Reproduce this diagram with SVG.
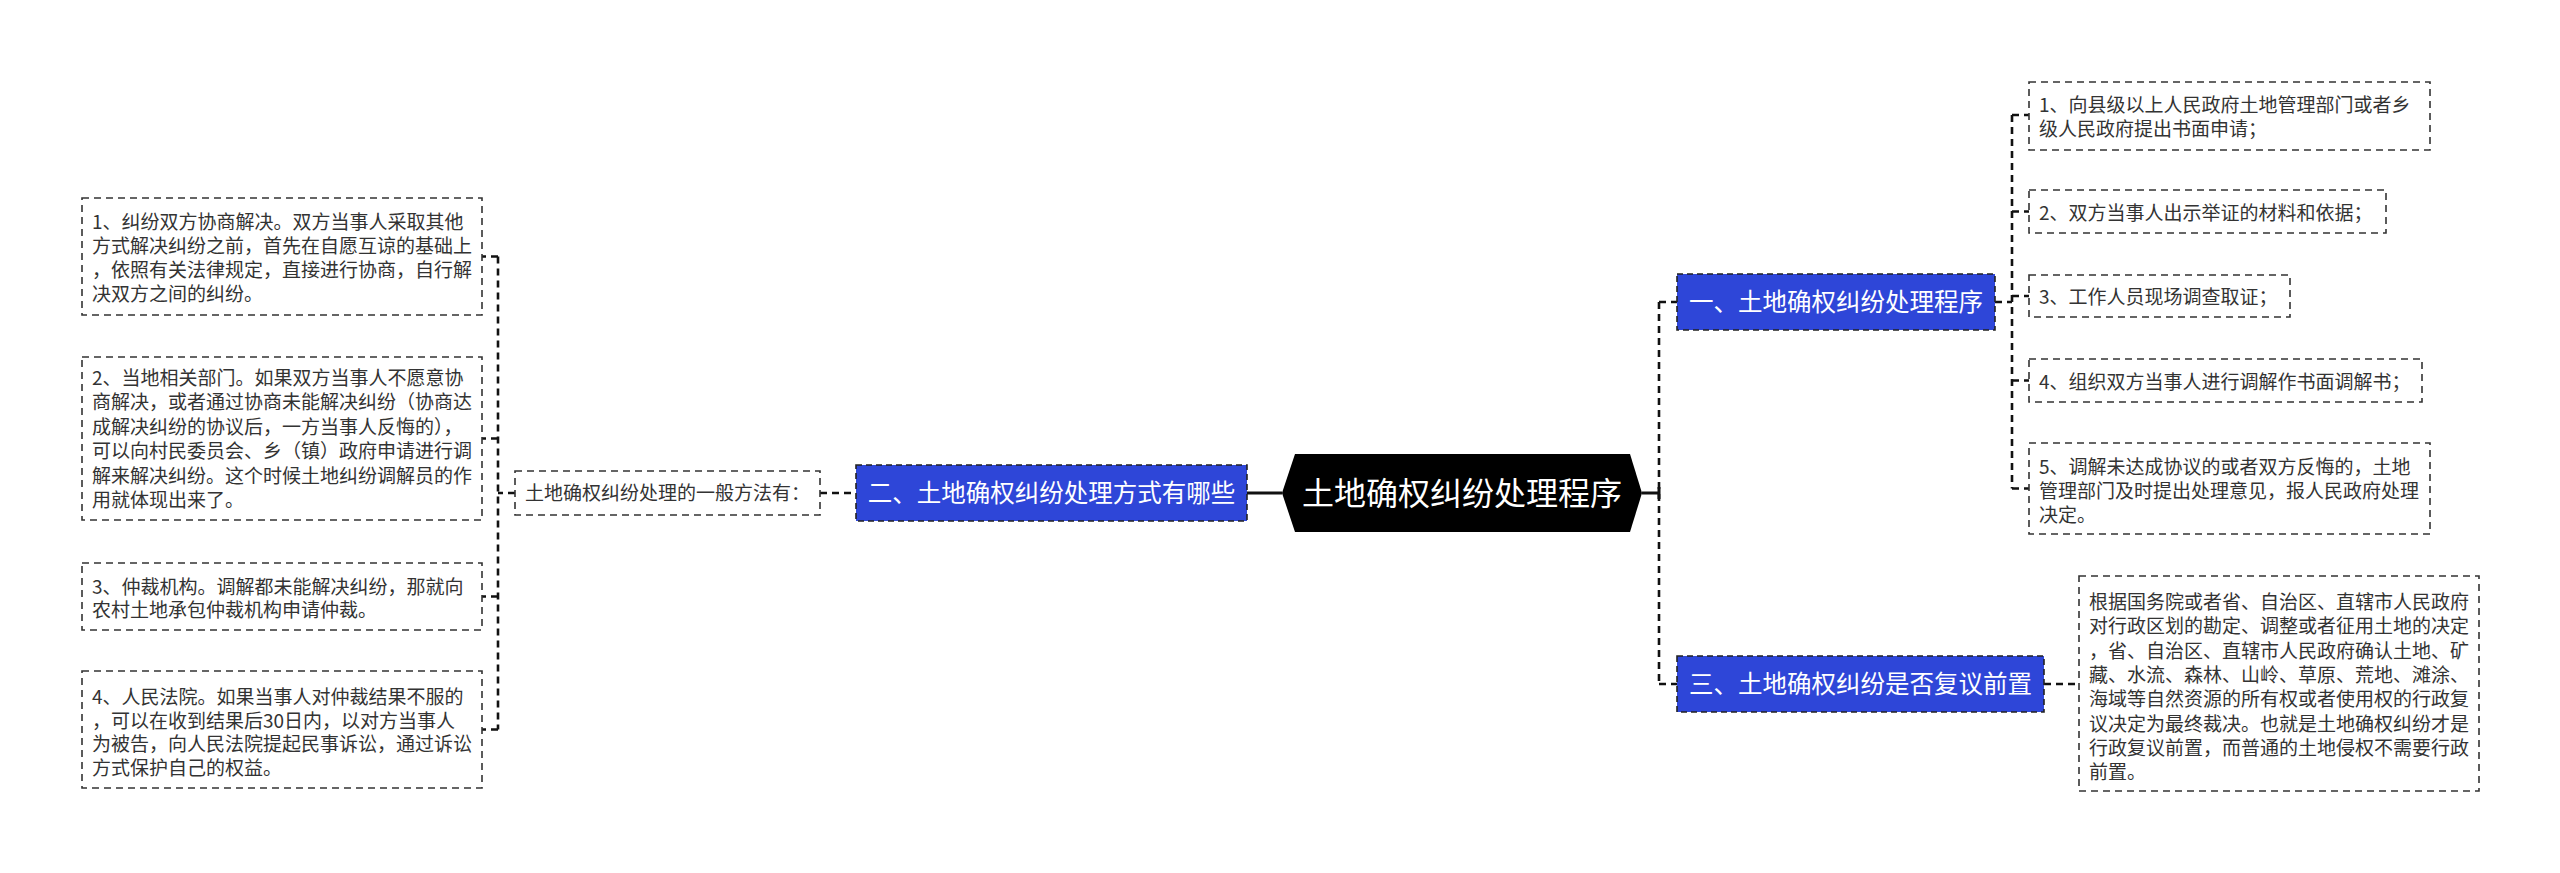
<svg xmlns="http://www.w3.org/2000/svg" width="2560" height="873" viewBox="0 0 2560 873">
<style>
.bg{fill:#ffffff}
.box{fill:#ffffff;stroke:#333333;stroke-width:1.6;stroke-dasharray:7 5}
.blue{fill:#2e46d8;stroke:#222222;stroke-width:1.6;stroke-dasharray:6 4}
.t{font-family:"Microsoft YaHei","Noto Sans CJK SC","Noto Sans",sans-serif;font-size:19px;fill:#333333}
.tb{font-family:"Microsoft YaHei","Noto Sans CJK SC","Noto Sans",sans-serif;font-size:24.5px;fill:#ffffff;text-anchor:middle}
.tc{font-family:"Microsoft YaHei","Noto Sans CJK SC","Noto Sans",sans-serif;font-size:32px;fill:#ffffff;text-anchor:middle}
.dash{fill:none;stroke:#111111;stroke-width:2.6;stroke-dasharray:7 5}
.solid{fill:none;stroke:#111111;stroke-width:3}
</style>
<rect class="bg" x="0" y="0" width="2560" height="873"/>
<g id="connectors">
<path class="solid" d="M1247,493 H1282"/>
<path class="solid" d="M1642,493 H1659 M1659,487 V499"/>
<path class="dash" d="M1659,302 V684 M1659,302 H1677 M1659,684 H1677"/>
<path class="dash" d="M1995,302 H2012 M2012,115 V488.5 M2012,115 H2029 M2012,211.5 H2029 M2012,296 H2029 M2012,380.5 H2029 M2012,488.5 H2029"/>
<path class="dash" d="M2044,684 H2079"/>
<path class="dash" d="M820,493 H856"/>
<path class="dash" d="M515,493 H498 M498,256.5 V729.5 M498,256.5 H482 M498,438.5 H482 M498,596.5 H482 M498,729.5 H482"/>
</g>
<g id="center">
<polygon points="1295,454 1630,454 1642,493 1630,532 1295,532 1282,493" fill="#000000"/>
<text class="tc" x="1462" y="505">土地确权纠纷处理程序</text>
</g>
<g id="n2">
<rect class="blue" x="856" y="465" width="391" height="56"/>
<text class="tb" x="1051.5" y="502">二、土地确权纠纷处理方式有哪些</text>
</g>
<g id="n2a">
<rect class="box" x="515" y="471" width="305" height="44"/>
<text class="t" x="525" y="500">土地确权纠纷处理的一般方法有：</text>
</g>
<g id="l1">
<rect class="box" x="82" y="198" width="400" height="117"/>
<text class="t"><tspan x="92" y="229">1、纠纷双方协商解决。双方当事人采取其他</tspan><tspan x="92" y="253">方式解决纠纷之前，首先在自愿互谅的基础上</tspan><tspan x="92" y="277">，依照有关法律规定，直接进行协商，自行解</tspan><tspan x="92" y="301">决双方之间的纠纷。</tspan></text>
</g>
<g id="l2">
<rect class="box" x="82" y="357" width="400" height="163"/>
<text class="t"><tspan x="92" y="385">2、当地相关部门。如果双方当事人不愿意协</tspan><tspan x="92" y="409.4">商解决，或者通过协商未能解决纠纷（协商达</tspan><tspan x="92" y="433.8">成解决纠纷的协议后，一方当事人反悔的），</tspan><tspan x="92" y="458.2">可以向村民委员会、乡（镇）政府申请进行调</tspan><tspan x="92" y="482.6">解来解决纠纷。这个时候土地纠纷调解员的作</tspan><tspan x="92" y="507">用就体现出来了。</tspan></text>
</g>
<g id="l3">
<rect class="box" x="82" y="563" width="400" height="67"/>
<text class="t"><tspan x="92" y="594">3、仲裁机构。调解都未能解决纠纷，那就向</tspan><tspan x="92" y="617">农村土地承包仲裁机构申请仲裁。</tspan></text>
</g>
<g id="l4">
<rect class="box" x="82" y="671" width="400" height="117"/>
<text class="t"><tspan x="92" y="704">4、人民法院。如果当事人对仲裁结果不服的</tspan><tspan x="92" y="727.5">，可以在收到结果后30日内，以对方当事人</tspan><tspan x="92" y="751">为被告，向人民法院提起民事诉讼，通过诉讼</tspan><tspan x="92" y="775">方式保护自己的权益。</tspan></text>
</g>
<g id="n1">
<rect class="blue" x="1677" y="274" width="318" height="56"/>
<text class="tb" x="1836" y="311">一、土地确权纠纷处理程序</text>
</g>
<g id="n3">
<rect class="blue" x="1677" y="656" width="367" height="56"/>
<text class="tb" x="1860.5" y="693">三、土地确权纠纷是否复议前置</text>
</g>
<g id="r1">
<rect class="box" x="2029" y="82" width="401" height="68"/>
<text class="t"><tspan x="2039" y="111.5">1、向县级以上人民政府土地管理部门或者乡</tspan><tspan x="2039" y="135.5">级人民政府提出书面申请；</tspan></text>
</g>
<g id="r2">
<rect class="box" x="2029" y="190" width="357" height="43"/>
<text class="t" x="2039" y="220">2、双方当事人出示举证的材料和依据；</text>
</g>
<g id="r3">
<rect class="box" x="2029" y="275" width="261" height="42"/>
<text class="t" x="2039" y="304">3、工作人员现场调查取证；</text>
</g>
<g id="r4">
<rect class="box" x="2029" y="359" width="393" height="43"/>
<text class="t" x="2039" y="388.5">4、组织双方当事人进行调解作书面调解书；</text>
</g>
<g id="r5">
<rect class="box" x="2029" y="443" width="401" height="91"/>
<text class="t"><tspan x="2039" y="473.5">5、调解未达成协议的或者双方反悔的，土地</tspan><tspan x="2039" y="497.5">管理部门及时提出处理意见，报人民政府处理</tspan><tspan x="2039" y="521.5">决定。</tspan></text>
</g>
<g id="r6">
<rect class="box" x="2079" y="576" width="400" height="215"/>
<text class="t"><tspan x="2089" y="609">根据国务院或者省、自治区、直辖市人民政府</tspan><tspan x="2089" y="633.3">对行政区划的勘定、调整或者征用土地的决定</tspan><tspan x="2089" y="657.6">，省、自治区、直辖市人民政府确认土地、矿</tspan><tspan x="2089" y="681.9">藏、水流、森林、山岭、草原、荒地、滩涂、</tspan><tspan x="2089" y="706.2">海域等自然资源的所有权或者使用权的行政复</tspan><tspan x="2089" y="730.5">议决定为最终裁决。也就是土地确权纠纷才是</tspan><tspan x="2089" y="754.8">行政复议前置，而普通的土地侵权不需要行政</tspan><tspan x="2089" y="779.1">前置。</tspan></text>
</g>
</svg>
